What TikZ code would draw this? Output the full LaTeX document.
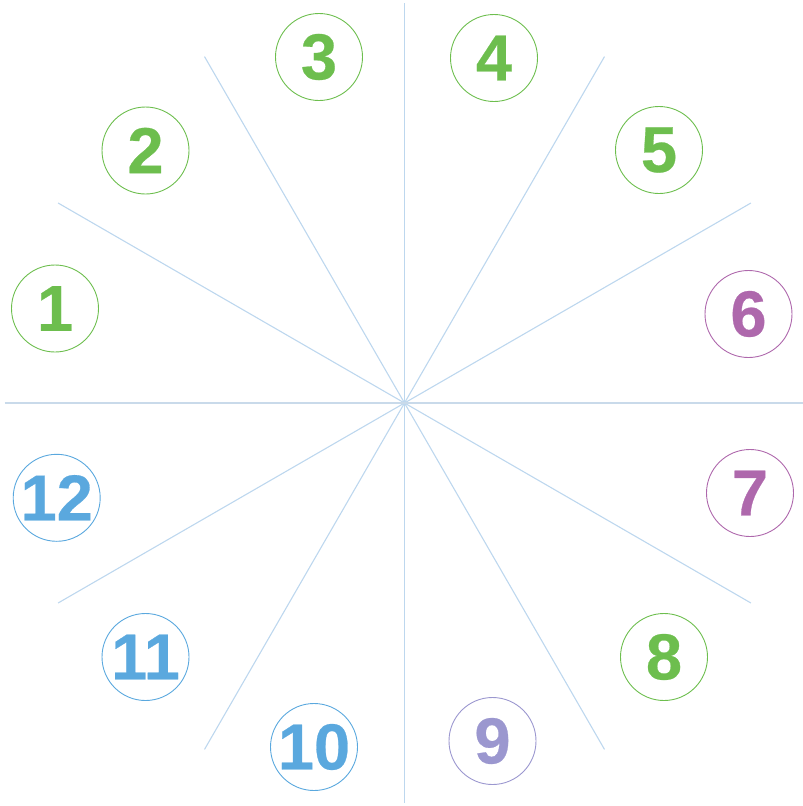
\documentclass[tikz,border=0pt]{standalone}
\usepackage{fontspec}
\usetikzlibrary{calc}
\setmainfont{Liberation Sans}
\newfontfamily\numfont[FakeBold=0.4]{Liberation Sans Bold}
\definecolor{cgreen}{HTML}{6DBE4E}
\definecolor{cpurple}{HTML}{AE68AC}
\definecolor{clav}{HTML}{9B97CF}
\definecolor{cblue}{HTML}{5AA8DE}
\definecolor{spoke}{HTML}{BDD7EE}
\definecolor{hline}{HTML}{C9DAEA}
\tikzset{
  numc/.style={circle, draw=#1, text=#1, line width=0.9pt, minimum size=87pt, inner sep=0pt,
    font=\fontsize{65}{65}\numfont},
  spokeline/.style={draw=spoke, line width=1.1pt},
}
\newcommand{\nm}[1]{\makebox[0pt][c]{#1}}
\begin{document}
\begin{tikzpicture}[x=1pt,y=-1pt]
\useasboundingbox (0,0) rectangle (803,806);
\coordinate (c) at (404.5,403);
% spokes
\foreach \a in {30,60,120,150}{
  \draw[spokeline] ($(c)+(\a:400)$) -- ($(c)+(\a+180:400)$);
}
\draw[spokeline] ($(c)+(90:400)$) -- ($(c)+(270:400)$);
\draw[draw=hline, line width=1.1pt] ($(c)+(180:400)$) -- ($(c)+(0:400)$);
% numbered circles
\node[numc=cgreen] (n1) at (55,308.5) {\nm{1}};
\node[numc=cgreen] (n2) at (145.5,150.5) {\nm{2}};
\node[numc=cgreen] (n3) at (319,57) {\nm{3}};
\node[numc=cgreen] (n4) at (494,58) {\nm{4}};
\node[numc=cgreen] (n5) at (659,150) {\nm{5}};
\node[numc=cpurple] (n6) at (748.5,314) {\nm{6}};
\node[numc=cpurple] (n7) at (750,493) {\nm{7}};
\node[numc=cgreen] (n8) at (664,657) {\nm{8}};
\node[numc=clav] (n9) at (492.5,741) {\nm{9}};
\node[numc=cblue] (n10) at (314,747) {\nm{10}};
\node[numc=cblue] (n11) at (145.5,657) {\nm{11}};
\node[numc=cblue] (n12) at (56.7,497.8) {\nm{12}};
\end{tikzpicture}
\end{document}
